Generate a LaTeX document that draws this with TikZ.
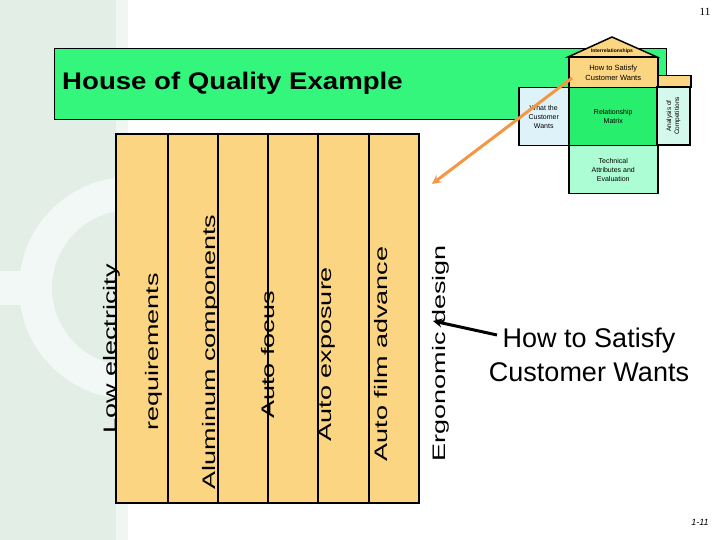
\documentclass[tikz,border=0pt]{standalone}
\usepackage{fontspec}
\setmainfont{Liberation Sans}
\newfontfamily\pagefont{Liberation Serif}
\usetikzlibrary{calc}
\usetikzlibrary{positioning}
\def\ytop{134}
\def\ybot{503}
\definecolor{green1}{RGB}{52,246,124}
\definecolor{green2}{RGB}{40,238,110}
\definecolor{orange1}{RGB}{244,150,66}
\definecolor{orange2}{RGB}{252,213,130}
\definecolor{blue1}{RGB}{222,242,250}
\definecolor{mint1}{RGB}{172,252,212}
\definecolor{mint2}{RGB}{212,248,236}
\definecolor{gray2}{RGB}{226,238,230}
\definecolor{gray4}{RGB}{242,248,245}
\definecolor{gray5}{RGB}{240,246,242}

\begin{document}
\begin{tikzpicture}[x=1pt,y=-1pt,
	coltext/.style={rotate=90,yscale=0.67,anchor=base,inner sep=0pt,font=\fontsize{27}{32}\selectfont},
	housebox/.style={draw=black,line width=1.5pt,inner sep=0pt,align=center,anchor=north west,font=\fontsize{7}{9}\selectfont}]

	\useasboundingbox (0,0) rectangle (720,540);

	%%% Background strip and ring
	\fill[gray2] (0,0) rectangle (116,540);
	\fill[gray5] (116,0) rectangle (128,540);
	\begin{scope}
		\clip (0,0) rectangle (116,540);
		\fill[gray4,even odd rule] (130,288) circle (111pt) (130,288) circle (78pt);
	\end{scope}
	\fill[gray4] (0,271) rectangle (24,305);

	%%% Title banner
	\node[draw=black,fill=green1,minimum width=612pt,minimum height=71pt,inner sep=0pt,anchor=north west] (banner) at (54,48) {};
	\node[anchor=base west,inner sep=0pt,xscale=1.15,font=\fontsize{24}{28}\selectfont\bfseries] (title) at (62,90) {House of Quality Example};

	%%% Columns
	\filldraw[fill=orange2,draw=black,line width=1.5pt] (116,\ytop) rectangle (419,\ybot);
	\draw[black,line width=1.5pt] (168,\ytop) -- (168,\ybot);
	\draw[black,line width=1.5pt] (218,\ytop) -- (218,\ybot);
	\draw[black,line width=1.5pt] (268,\ytop) -- (268,\ybot);
	\draw[black,line width=1.5pt] (318,\ytop) -- (318,\ybot);
	\draw[black,line width=1.5pt] (369,\ytop) -- (369,\ybot);

	%%% Column texts
	\node[coltext] (lowelec) at (116,349) {Low electricity};
	\node[coltext] (require) at (158,352) {requirements};
	\node[coltext] (alum) at (215,352) {Aluminum components};
	\node[coltext] (focus) at (274,355) {Auto focus};
	\node[coltext] (expo) at (331,354) {Auto exposure};
	\node[coltext] (film) at (387,354) {Auto film advance};
	\node[coltext] (ergo) at (445,353) {Ergonomic design};

	%%% House of quality
	\filldraw[fill=orange2,draw=black,line width=1.5pt] (568,57) -- (612,37) -- (657,57) -- cycle;
	\node[font=\fontsize{5}{6}\selectfont\bfseries] (inter) at (612,51) {Interrelationships};
	\node[housebox,fill=orange2,minimum width=33pt,minimum height=12pt] (strip) at (657,75) {};
	\node[housebox,fill=orange2,minimum width=89pt,minimum height=30pt,font=\fontsize{7.5}{9.5}\selectfont] (hows) at (568,57) {How to Satisfy\\Customer Wants};
	\node[housebox,fill=blue1,minimum width=50pt,minimum height=58pt] (whats) at (518,87) {What the\\Customer\\Wants};
	\node[housebox,fill=green2,minimum width=89pt,minimum height=58pt] (matrix) at (568,87) {Relationship\\Matrix};
	\node[housebox,fill=mint2,rotate=90,anchor=center,minimum width=58pt,minimum height=33pt,font=\fontsize{6.5}{8}\selectfont] (compet) at (673.5,116) {Analysis of\\Competitions};
	\node[housebox,fill=mint1,minimum width=89pt,minimum height=48pt] (tech) at (568,145) {Technical\\Attributes and\\Evaluation};

	%%% Arrows
	\coordinate (orangestart) at (572,78);
	\coordinate (orangetip) at (432,184);
	\draw[orange1,line width=3pt,-stealth] (orangestart) -- (orangetip);

	\node[align=center,inner sep=0pt,font=\fontsize{27}{34}\selectfont] (satisfy) at (589,355) {How to Satisfy\\Customer Wants};
	\coordinate (blackstart) at (497,335);
	\coordinate (ergotip) at (433,321);
	\draw[black,line width=3pt,-stealth] (blackstart) -- (ergotip);

	%%% Slide numbers
	\node[font=\pagefont\fontsize{11}{13}\selectfont] (pagenum) at (705,12) {11};
	\node[font=\itshape\fontsize{9}{11}\selectfont] (slidenum) at (700,522) {1-11};

\end{tikzpicture}
\end{document}
